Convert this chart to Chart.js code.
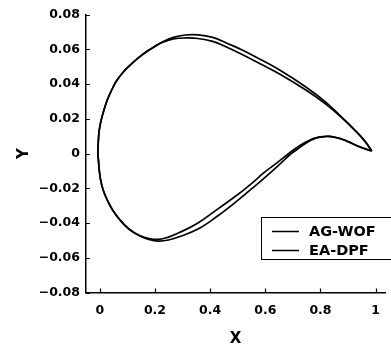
<!DOCTYPE html>
<html>
<head>
<meta charset="utf-8">
<script src="https://cdn.jsdelivr.net/npm/chart.js@4/dist/chart.umd.min.js"></script>
<style>
  html, body { margin: 0; padding: 0; background: #fff; }
  #wrap { width: 391px; height: 348px; position: relative; }
</style>
</head>
<body>
<div id="wrap"><canvas id="c" width="391" height="348"></canvas></div>
<script>
// ---- data ----
const seriesNames = ['AG-WOF', 'EA-DPF'];

// AG-WOF: trailing edge -> upper surface -> leading edge -> lower surface -> trailing edge
const agX = [0.986, 0.961, 0.925, 0.872, 0.819, 0.747, 0.658, 0.569, 0.516, 0.463, 0.409, 0.356, 0.310, 0.267, 0.224, 0.196, 0.167, 0.139, 0.110, 0.085, 0.060, 0.043, 0.027, 0.015, 0.005, -0.002, -0.005, -0.007, -0.005, -0.002, 0.003, 0.012, 0.027, 0.046, 0.073, 0.105, 0.142, 0.178, 0.214, 0.249, 0.285, 0.356, 0.427, 0.498, 0.552, 0.594, 0.641, 0.690, 0.712, 0.737, 0.762, 0.783, 0.808, 0.829, 0.854, 0.879, 0.907, 0.943, 0.986];
const agY = [0.0014, 0.0072, 0.0135, 0.0216, 0.0296, 0.0383, 0.0475, 0.0553, 0.0596, 0.0633, 0.0668, 0.0683, 0.0682, 0.0668, 0.0639, 0.0613, 0.0584, 0.0550, 0.0509, 0.0469, 0.0417, 0.0365, 0.0308, 0.0250, 0.0193, 0.0135, 0.0078, 0.0003, -0.0037, -0.0095, -0.0153, -0.0210, -0.0268, -0.0325, -0.0383, -0.0435, -0.0472, -0.0495, -0.0504, -0.0498, -0.0481, -0.0435, -0.0360, -0.0273, -0.0201, -0.0144, -0.0078, -0.0006, 0.0020, 0.0049, 0.0073, 0.0088, 0.0096, 0.0098, 0.0092, 0.0081, 0.0063, 0.0037, 0.0014];

// EA-DPF: same path order
const eaX = [0.986, 0.961, 0.925, 0.872, 0.819, 0.747, 0.658, 0.569, 0.516, 0.463, 0.409, 0.356, 0.310, 0.267, 0.224, 0.196, 0.167, 0.139, 0.110, 0.085, 0.060, 0.043, 0.027, 0.015, 0.005, -0.002, -0.005, -0.007, -0.005, -0.002, 0.003, 0.012, 0.027, 0.046, 0.073, 0.105, 0.142, 0.178, 0.214, 0.249, 0.285, 0.356, 0.427, 0.498, 0.552, 0.594, 0.641, 0.690, 0.712, 0.737, 0.762, 0.783, 0.808, 0.829, 0.854, 0.879, 0.907, 0.943, 0.986];
const eaY = [0.0014, 0.0070, 0.0132, 0.0214, 0.0285, 0.0365, 0.0452, 0.0527, 0.0570, 0.0610, 0.0645, 0.0662, 0.0665, 0.0659, 0.0637, 0.0612, 0.0583, 0.0549, 0.0508, 0.0468, 0.0416, 0.0364, 0.0307, 0.0249, 0.0192, 0.0134, 0.0077, 0.0003, -0.0037, -0.0095, -0.0152, -0.0209, -0.0267, -0.0323, -0.0381, -0.0433, -0.0471, -0.0489, -0.0494, -0.0481, -0.0458, -0.0400, -0.0320, -0.0239, -0.0170, -0.0112, -0.0055, 0.0006, 0.0032, 0.0058, 0.0078, 0.0090, 0.0097, 0.0099, 0.0093, 0.0082, 0.0064, 0.0038, 0.0014];

const xTickValues = [0, 0.2, 0.4, 0.6, 0.8, 1];
const xTickLabels = ['0', '0.2', '0.4', '0.6', '0.8', '1'];
const yTickValues = [0.08, 0.06, 0.04, 0.02, 0, -0.02, -0.04, -0.06, -0.08];
const yTickLabels = ['0.08', '0.06', '0.04', '0.02', '0', '\u22120.02', '\u22120.04', '\u22120.06', '\u22120.08'];
const xTitle = 'X';
const yTitle = 'Y';

// ---- build ----
const toPts = (xs, ys) => xs.map((x, i) => ({x: x, y: ys[i]}));
const FONT = '"DejaVu Sans", sans-serif';

function labelFor(values, labels, v) {
  const i = values.findIndex(t => Math.abs(t - v) < 1e-9);
  return i >= 0 ? labels[i] : '';
}

const inwardTicks = {
  id: 'inwardTicks',
  afterDraw(chart) {
    const ctx = chart.ctx;
    const xs = chart.scales.x, ys = chart.scales.y;
    const a = chart.chartArea;
    ctx.save();
    ctx.strokeStyle = '#000';
    ctx.lineWidth = 1.2;
    ctx.beginPath();
    xTickValues.forEach(v => {
      const p = Math.round(xs.getPixelForValue(v)) + 0.5;
      ctx.moveTo(p, a.bottom); ctx.lineTo(p, a.bottom - 4);
    });
    yTickValues.forEach(v => {
      const p = Math.round(ys.getPixelForValue(v)) + 0.5;
      ctx.moveTo(a.left, p); ctx.lineTo(a.left + 4, p);
    });
    ctx.stroke();
    ctx.restore();
  }
};

const boxLegend = {
  id: 'boxLegend',
  afterDraw(chart) {
    const ctx = chart.ctx;
    ctx.save();
    ctx.strokeStyle = '#000';
    ctx.lineWidth = 1;
    ctx.strokeRect(261.5, 217.5, 140, 42);
    const rowsY = [231.5, 250.5];
    const baseY = [236, 255];
    chart.data.datasets.forEach((ds, i) => {
      ctx.strokeStyle = ds.borderColor;
      ctx.lineWidth = 1.5;
      ctx.beginPath();
      ctx.moveTo(272, rowsY[i]); ctx.lineTo(299, rowsY[i]);
      ctx.stroke();
      ctx.fillStyle = '#000';
      ctx.font = 'bold 14.5px ' + FONT;
      ctx.textBaseline = 'alphabetic';
      ctx.textAlign = 'left';
      ctx.fillText(ds.label, 309, baseY[i]);
    });
    ctx.restore();
  }
};

new Chart(document.getElementById('c'), {
  type: 'scatter',
  data: {
    datasets: [
      { label: seriesNames[0], data: toPts(agX, agY), showLine: true, borderColor: '#000', backgroundColor: '#000', borderWidth: 1.7, pointRadius: 0, tension: 0.4, fill: false },
      { label: seriesNames[1], data: toPts(eaX, eaY), showLine: true, borderColor: '#000', backgroundColor: '#000', borderWidth: 1.7, pointRadius: 0, tension: 0.4, fill: false }
    ]
  },
  options: {
    responsive: false,
    animation: false,
    devicePixelRatio: 1,
    layout: { padding: { top: 14.5, right: 0, left: 0, bottom: 0 } },
    plugins: { legend: { display: false }, tooltip: { enabled: false } },
    scales: {
      x: {
        type: 'linear',
        min: -0.05, max: 1.035,
        grid: { display: false, drawTicks: false },
        border: { display: true, color: '#000', width: 1.5 },
        afterBuildTicks: s => { s.ticks = xTickValues.map(v => ({value: v})); },
        afterFit: s => { s.height = 55.5; },
        ticks: {
          color: '#000', padding: 11, maxRotation: 0, autoSkip: false,
          font: { family: FONT, size: 12.5, weight: 'bold' },
          callback: v => labelFor(xTickValues, xTickLabels, v)
        },
        title: { display: true, text: xTitle, color: '#000', padding: { top: 0, bottom: 0 },
                 font: { family: FONT, size: 15, weight: 'bold', lineHeight: 1.2 } }
      },
      y: {
        type: 'linear',
        min: -0.08, max: 0.08,
        grid: { display: false, drawTicks: false },
        border: { display: true, color: '#000', width: 1.5 },
        afterBuildTicks: s => { s.ticks = yTickValues.slice().reverse().map(v => ({value: v})); },
        afterFit: s => { s.width = 86; },
        ticks: {
          color: '#000', padding: 6, autoSkip: false,
          font: { family: FONT, size: 12.5, weight: 'bold' },
          callback: v => labelFor(yTickValues, yTickLabels, v)
        },
        title: { display: true, text: yTitle, color: '#000', padding: { top: 15, bottom: 0 },
                 font: { family: FONT, size: 15, weight: 'bold', lineHeight: 1.2 } }
      }
    }
  },
  plugins: [inwardTicks, boxLegend]
});
</script>
</body>
</html>
